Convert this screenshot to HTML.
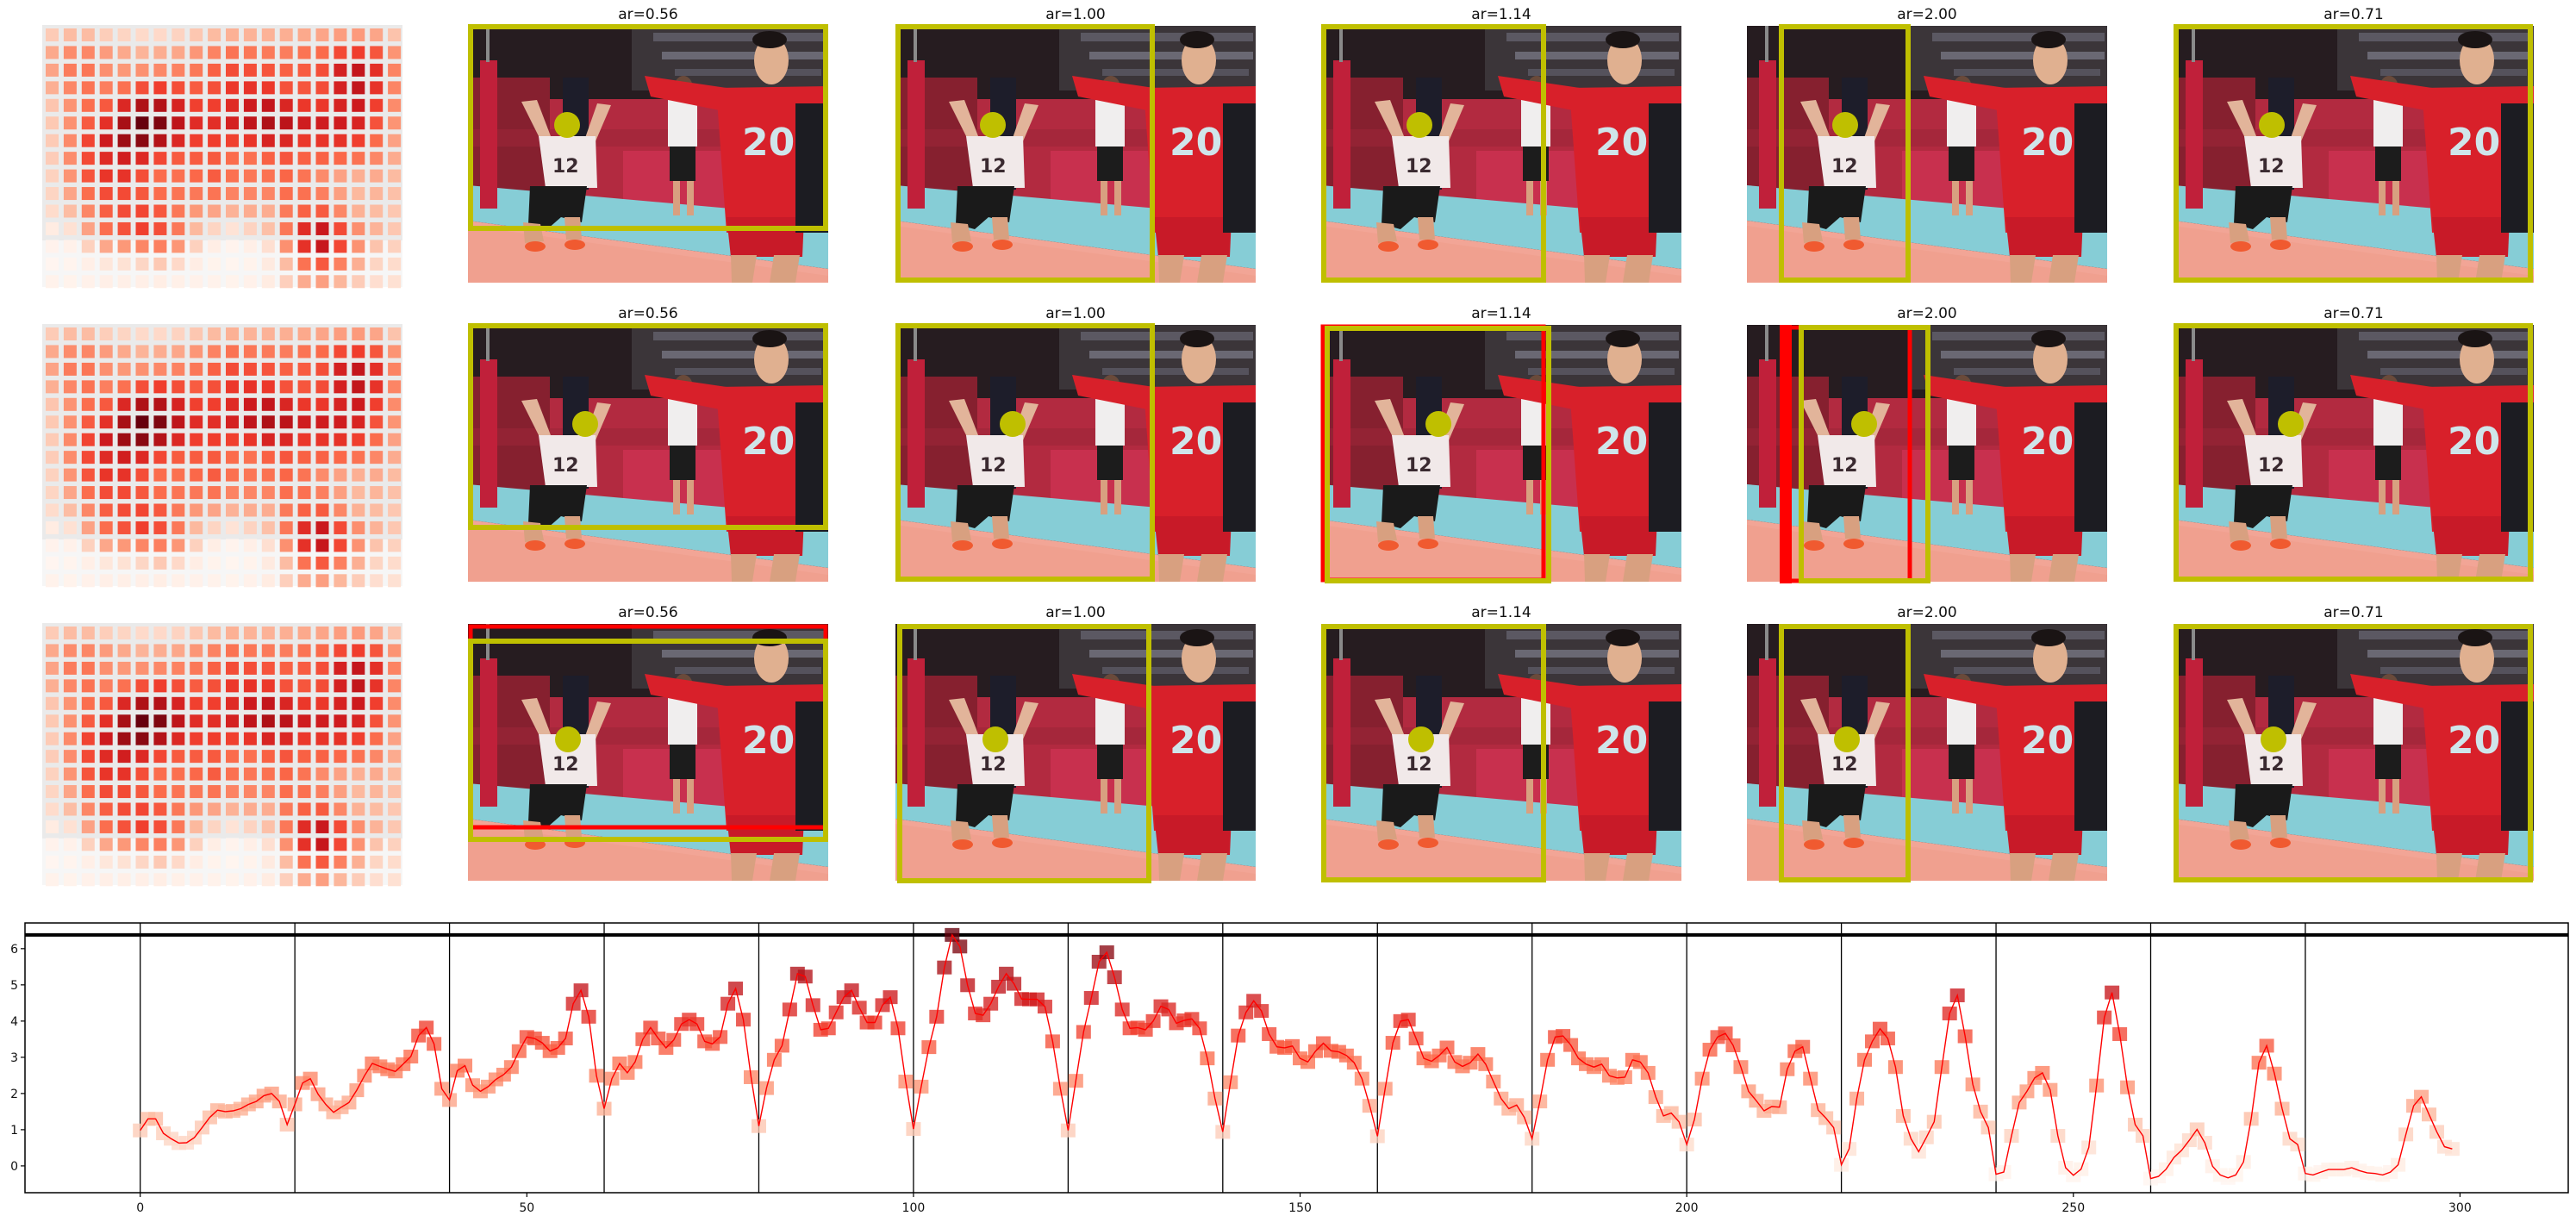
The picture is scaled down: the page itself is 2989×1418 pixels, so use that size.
<!DOCTYPE html>
<html><head><meta charset="utf-8"><style>
html,body{margin:0;padding:0;background:#fff;}
svg{display:block;font-family:"DejaVu Sans","Liberation Sans",sans-serif;}
</style></head><body>
<svg id="root" width="2989" height="1418" viewBox="0 0 2989 1418" xmlns="http://www.w3.org/2000/svg">
<defs>
<symbol id="photo" viewBox="0 0 418 298" overflow="hidden">
 <rect x="0" y="0" width="418" height="298" fill="#261c20"/>
 <rect x="190" y="0" width="228" height="75" fill="#3b3539"/>
 <rect x="215" y="8" width="200" height="10" fill="#5b5862"/>
 <rect x="225" y="30" width="190" height="9" fill="#6a6873"/>
 <rect x="240" y="50" width="170" height="8" fill="#55525c"/>
 <rect x="0" y="85" width="418" height="130" fill="#b22a40"/>
 <rect x="0" y="60" width="95" height="155" fill="#86202f"/>
 <rect x="180" y="145" width="120" height="70" fill="#c8304e"/>
 <rect x="0" y="120" width="418" height="20" fill="#9c2638" opacity="0.6"/>
 <polygon points="0,185 418,222 418,282 0,226" fill="#86cdd6"/>
 <polygon points="0,226 418,282 418,298 0,298" fill="#f2a596"/>
 <polygon points="0,232 418,290 418,298 0,298" fill="#f0a08f"/>
 <rect x="14" y="40" width="20" height="172" fill="#c0203a"/>
 <rect x="21" y="0" width="4" height="42" fill="#8a8a8a"/>
 <rect x="110" y="60" width="30" height="130" fill="#1d1d2a"/>
 <polygon points="62,88 80,86 96,128 84,132" fill="#e2b49a"/>
 <polygon points="150,90 166,92 148,134 136,130" fill="#e2b49a"/>
 <polygon points="82,128 148,128 150,188 90,188" fill="#f1e9e9"/>
 <text x="98" y="170" font-size="22" font-weight="bold" fill="#3a2a30" font-family="DejaVu Sans, sans-serif">12</text>
 <polygon points="72,186 138,186 132,228 108,222 92,236 70,230" fill="#1a1a1a"/>
 <polygon points="64,228 84,230 88,250 66,252" fill="#d8a080"/>
 <polygon points="112,222 130,222 132,248 114,248" fill="#d8a080"/>
 <ellipse cx="78" cy="256" rx="12" ry="6" fill="#f05a30"/>
 <ellipse cx="124" cy="254" rx="12" ry="6" fill="#f05a30"/>
 <rect x="232" y="85" width="34" height="55" fill="#f0eeee"/>
 <rect x="234" y="140" width="30" height="40" fill="#1c1c1c"/>
 <rect x="238" y="180" width="8" height="40" fill="#d8a080"/>
 <rect x="254" y="180" width="8" height="40" fill="#d8a080"/>
 <ellipse cx="250" cy="72" rx="11" ry="14" fill="#6a4a3a"/>
 <polygon points="205,58 300,72 302,100 212,82" fill="#d8202a"/>
 <polygon points="288,72 418,70 418,235 300,240" fill="#d8202a"/>
 <polygon points="300,222 390,222 388,268 305,268" fill="#c81a28"/>
 <polygon points="305,266 335,266 330,298 306,298" fill="#d8a080"/>
 <polygon points="355,266 385,266 380,298 350,298" fill="#d8a080"/>
 <ellipse cx="352" cy="40" rx="20" ry="28" fill="#e0b090"/>
 <ellipse cx="350" cy="16" rx="20" ry="10" fill="#1a1414"/>
 <rect x="380" y="90" width="38" height="150" fill="#1c1c22"/>
 <text x="318" y="150" font-size="44" font-weight="bold" fill="#cfe5ea" font-family="DejaVu Sans, sans-serif">20</text>
</symbol>
</defs>

<g id="heatmaps"></g>

<g id="photos">
 <!-- row 1 -->
 <use href="#photo" x="543" y="30" width="418" height="298"/>
 <use href="#photo" x="1039" y="30" width="418" height="298"/>
 <use href="#photo" x="1533" y="30" width="418" height="298"/>
 <use href="#photo" x="2027" y="30" width="418" height="298"/>
 <use href="#photo" x="2522" y="30" width="418" height="298"/>
 <!-- row 2 -->
 <use href="#photo" x="543" y="377" width="418" height="298"/>
 <use href="#photo" x="1039" y="377" width="418" height="298"/>
 <use href="#photo" x="1533" y="377" width="418" height="298"/>
 <use href="#photo" x="2027" y="377" width="418" height="298"/>
 <use href="#photo" x="2522" y="377" width="418" height="298"/>
 <!-- row 3 -->
 <use href="#photo" x="543" y="724" width="418" height="298"/>
 <use href="#photo" x="1039" y="724" width="418" height="298"/>
 <use href="#photo" x="1533" y="724" width="418" height="298"/>
 <use href="#photo" x="2027" y="724" width="418" height="298"/>
 <use href="#photo" x="2522" y="724" width="418" height="298"/>
</g>

<g id="boxes" fill="none" stroke-width="6">
 <!-- row 1 -->
 <rect x="546" y="31" width="412" height="234" stroke="#bfbf00"/>
 <rect x="1042" y="31" width="295" height="294" stroke="#bfbf00"/>
 <rect x="1536" y="31" width="255" height="294" stroke="#bfbf00"/>
 <rect x="2067" y="31" width="147" height="294" stroke="#bfbf00"/>
 <rect x="2525" y="31" width="411" height="294" stroke="#bfbf00"/>
 <!-- row 2 -->
 <rect x="546" y="378" width="412" height="234" stroke="#bfbf00"/>
 <rect x="1042" y="378" width="295" height="294" stroke="#bfbf00"/>
 <rect x="1535" y="379" width="256" height="294" stroke="#ff0000" stroke-width="5"/>
 <rect x="1540" y="381" width="257" height="293" stroke="#bfbf00"/>
 <rect x="2069" y="380" width="147" height="294" stroke="#ff0000" stroke-width="5"/>
 <rect x="2065" y="377" width="14" height="300" fill="#ff0000" stroke="none"/>
 <rect x="2090" y="380" width="147" height="294" stroke="#bfbf00"/>
 <rect x="2525" y="378" width="411" height="294" stroke="#bfbf00"/>
 <!-- row 3 -->
 <rect x="546" y="727" width="412" height="233" stroke="#ff0000" stroke-width="5"/>
 <rect x="546" y="744" width="412" height="230" stroke="#bfbf00"/>
 <rect x="1044" y="727" width="289" height="295" stroke="#bfbf00"/>
 <rect x="1536" y="727" width="255" height="294" stroke="#bfbf00"/>
 <rect x="2067" y="727" width="147" height="294" stroke="#bfbf00"/>
 <rect x="2525" y="727" width="411" height="294" stroke="#bfbf00"/>
</g>

<g id="heads" fill="#bfbf00">
 <circle cx="658" cy="145" r="15"/>
 <circle cx="1152" cy="145" r="15"/>
 <circle cx="1647" cy="145" r="15"/>
 <circle cx="2141" cy="145" r="15"/>
 <circle cx="2636" cy="145" r="15"/>
 <circle cx="679" cy="492" r="15"/>
 <circle cx="1175" cy="492" r="15"/>
 <circle cx="1669" cy="492" r="15"/>
 <circle cx="2163" cy="492" r="15"/>
 <circle cx="2658" cy="492" r="15"/>
 <circle cx="659" cy="858" r="15"/>
 <circle cx="1155" cy="858" r="15"/>
 <circle cx="1649" cy="858" r="15"/>
 <circle cx="2143" cy="858" r="15"/>
 <circle cx="2638" cy="858" r="15"/>
</g>

<g id="titles" font-size="17" fill="#111" text-anchor="middle">
 <text x="752" y="22">ar=0.56</text>
 <text x="1248" y="22">ar=1.00</text>
 <text x="1742" y="22">ar=1.14</text>
 <text x="2236" y="22">ar=2.00</text>
 <text x="2731" y="22">ar=0.71</text>
 <text x="752" y="369">ar=0.56</text>
 <text x="1248" y="369">ar=1.00</text>
 <text x="1742" y="369">ar=1.14</text>
 <text x="2236" y="369">ar=2.00</text>
 <text x="2731" y="369">ar=0.71</text>
 <text x="752" y="716">ar=0.56</text>
 <text x="1248" y="716">ar=1.00</text>
 <text x="1742" y="716">ar=1.14</text>
 <text x="2236" y="716">ar=2.00</text>
 <text x="2731" y="716">ar=0.71</text>
</g>

<g id="chart"></g>
</svg>

<script>
// ---- chart data ----
const seg0  = [0.98,1.30,1.30,0.90,0.75,0.63,0.64,0.78,1.06,1.34,1.54,1.50,1.52,1.58,1.70,1.78,1.94,2.00,1.78,1.14];
const seg1  = [1.70,2.29,2.41,1.98,1.70,1.48,1.62,1.75,2.09,2.49,2.83,2.75,2.67,2.61,2.81,3.02,3.60,3.82,3.37,2.13];
const seg2  = [1.82,2.63,2.77,2.23,2.06,2.19,2.39,2.52,2.73,3.17,3.56,3.52,3.40,3.17,3.26,3.52,4.48,4.85,4.12,2.49];
const seg3  = [1.58,2.41,2.83,2.57,2.87,3.50,3.82,3.52,3.26,3.48,3.92,4.04,3.92,3.44,3.37,3.56,4.48,4.90,4.04,2.45];
const seg4  = [1.10,2.15,2.93,3.32,4.32,5.31,5.23,4.44,3.76,3.80,4.24,4.66,4.85,4.37,3.96,3.96,4.44,4.66,3.80,2.33];
const seg5  = [1.02,2.19,3.28,4.12,5.48,6.38,6.06,4.99,4.21,4.16,4.48,4.95,5.31,5.03,4.61,4.60,4.60,4.40,3.44,2.13];
const seg6  = [0.98,2.35,3.70,4.64,5.64,5.90,5.21,4.32,3.80,3.82,3.76,4.00,4.41,4.32,3.94,4.02,4.06,3.80,2.97,1.86];
const seg7  = [0.94,2.31,3.60,4.24,4.56,4.28,3.64,3.29,3.26,3.31,2.97,2.87,3.17,3.39,3.18,3.15,3.05,2.85,2.41,1.66];
const seg8  = [0.82,2.13,3.40,4.00,4.04,3.52,2.97,2.89,3.05,3.27,2.87,2.75,2.85,3.09,2.81,2.33,1.86,1.58,1.68,1.34];
const seg9  = [0.75,1.78,2.93,3.56,3.59,3.34,2.97,2.81,2.73,2.81,2.49,2.43,2.45,2.93,2.87,2.57,1.90,1.38,1.46,1.22];
const seg10 = [0.59,1.28,2.41,3.21,3.56,3.66,3.33,2.73,2.06,1.80,1.52,1.64,1.62,2.67,3.17,3.29,2.41,1.54,1.32,1.06];
const seg11 = [0.03,0.47,1.86,2.93,3.44,3.79,3.52,2.73,1.38,0.75,0.39,0.79,1.22,2.73,4.21,4.71,3.58,2.25,1.50,1.06];
const seg12 = [-0.23,-0.17,0.83,1.75,2.06,2.43,2.57,2.10,0.83,-0.05,-0.26,-0.09,0.51,2.22,4.10,4.79,3.64,2.17,1.14,0.83];
const seg13 = [-0.35,-0.29,-0.09,0.23,0.43,0.71,1.01,0.64,-0.01,-0.25,-0.33,-0.25,0.11,1.30,2.85,3.32,2.55,1.58,0.75,0.59];
const seg14 = [-0.21,-0.25,-0.17,-0.10,-0.10,-0.10,-0.05,-0.13,-0.19,-0.21,-0.25,-0.17,0.03,0.87,1.66,1.91,1.42,0.94,0.53,0.47];
const segments = [seg0,seg1,seg2,seg3,seg4,seg5,seg6,seg7,seg8,seg9,seg10,seg11,seg12,seg13,seg14];
const xTicks = [0,50,100,150,200,250,300];
const yTicks = [0,1,2,3,4,5,6];
const segBoundaries = [0,20,40,60,80,100,120,140,160,180,200,220,240,260,280];
const maxLineValue = [6.38];

const NS = "http://www.w3.org/2000/svg";
function mk(tag, attrs, parent){ const e=document.createElementNS(NS,tag); for(const k in attrs) e.setAttribute(k,attrs[k]); parent.appendChild(e); return e; }

const values = [].concat(...segments);
const vmin = Math.min(...values), vmax = Math.max(...values);
const stops = [[255,245,240],[254,224,210],[252,187,161],[252,146,114],[251,106,74],[239,59,44],[203,24,29],[165,15,21],[103,0,13]];
function reds(v){
  let t = (v - vmin)/(vmax - vmin); t = Math.max(0, Math.min(1, t));
  const p = t*(stops.length-1); const i = Math.min(stops.length-2, Math.floor(p)); const f = p - i;
  const c = stops[i].map((a,k)=>Math.round(a+(stops[i+1][k]-a)*f));
  return `rgb(${c[0]},${c[1]},${c[2]})`;
}

// ---- heatmaps (same values reshaped 15 x 20) ----
const hm = document.getElementById('heatmaps');
const hmTops = [29, 376, 723];
hmTops.forEach((top, ri) => {
  const g = mk('g', {}, hm);
  
  
  const bg = mk('rect', {x:49, y:top, width:418, height:304, fill:'#eaeaea'}, g);
  
  
  const fade = mk('rect', {x:49, y:top+250, width:418, height:54, fill:'#fff', opacity:0.55}, g);
  
  
  segments.forEach((row, r) => {
    row.forEach((v, c) => {
      const cell = mk('rect', {x: 53 + c*20.9, y: top + 4 + r*20.45, width:15, height:15, fill: reds(v)}, g);
      
      
    });
  });
});

// ---- line chart ----
const chart = document.getElementById('chart');
const AX = {l:29, r:2980, t:1071, b:1384};
const xMin = -14.9, xMax = 314.0, yMin = -0.74, yMax = 6.71;
const X = v => AX.l + (v - xMin)/(xMax - xMin)*(AX.r - AX.l);
const Y = v => AX.b - (v - yMin)/(yMax - yMin)*(AX.b - AX.t);

const bgRect = mk('rect', {x:AX.l, y:AX.t, width:AX.r-AX.l, height:AX.b-AX.t, fill:'#fff'}, chart);



segBoundaries.forEach(b => {
  const l = mk('line', {x1:X(b), x2:X(b), y1:AX.t, y2:AX.b, stroke:'#000', 'stroke-width':1.3}, chart);
  
  
});
maxLineValue.forEach(m => {
  const l = mk('line', {x1:AX.l, x2:AX.r, y1:Y(m), y2:Y(m), stroke:'#000', 'stroke-width':4}, chart);
  
  
});

const mg = mk('g', {}, chart);


values.forEach((v, i) => {
  const s = mk('rect', {x:X(i)-8.5, y:Y(v)-8, width:17, height:16, fill:reds(v), 'fill-opacity':0.78}, mg);
  
  
});
const pts = values.map((v,i)=>X(i).toFixed(1)+','+Y(v).toFixed(1)).join(' ');
const line = mk('polyline', {points:pts, fill:'none', stroke:'#ff0000', 'stroke-width':1.4}, chart);



const frame = mk('rect', {x:AX.l, y:AX.t, width:AX.r-AX.l, height:AX.b-AX.t, fill:'none', stroke:'#000', 'stroke-width':1.5}, chart);



yTicks.forEach(t => {
  const tk = mk('line', {x1:AX.l-5, x2:AX.l, y1:Y(t), y2:Y(t), stroke:'#000', 'stroke-width':1.2}, chart);
  
  
  const tx = mk('text', {x:AX.l-8, y:Y(t)+5, 'font-size':14, 'text-anchor':'end', fill:'#111'}, chart);
  tx.textContent = String(t);
  
  
});
xTicks.forEach(t => {
  const tk = mk('line', {x1:X(t), x2:X(t), y1:AX.b, y2:AX.b+5, stroke:'#000', 'stroke-width':1.2}, chart);
  
  
  const tx = mk('text', {x:X(t), y:AX.b+22, 'font-size':14, 'text-anchor':'middle', fill:'#111'}, chart);
  tx.textContent = String(t);
  
  
});
</script>
</body></html>
